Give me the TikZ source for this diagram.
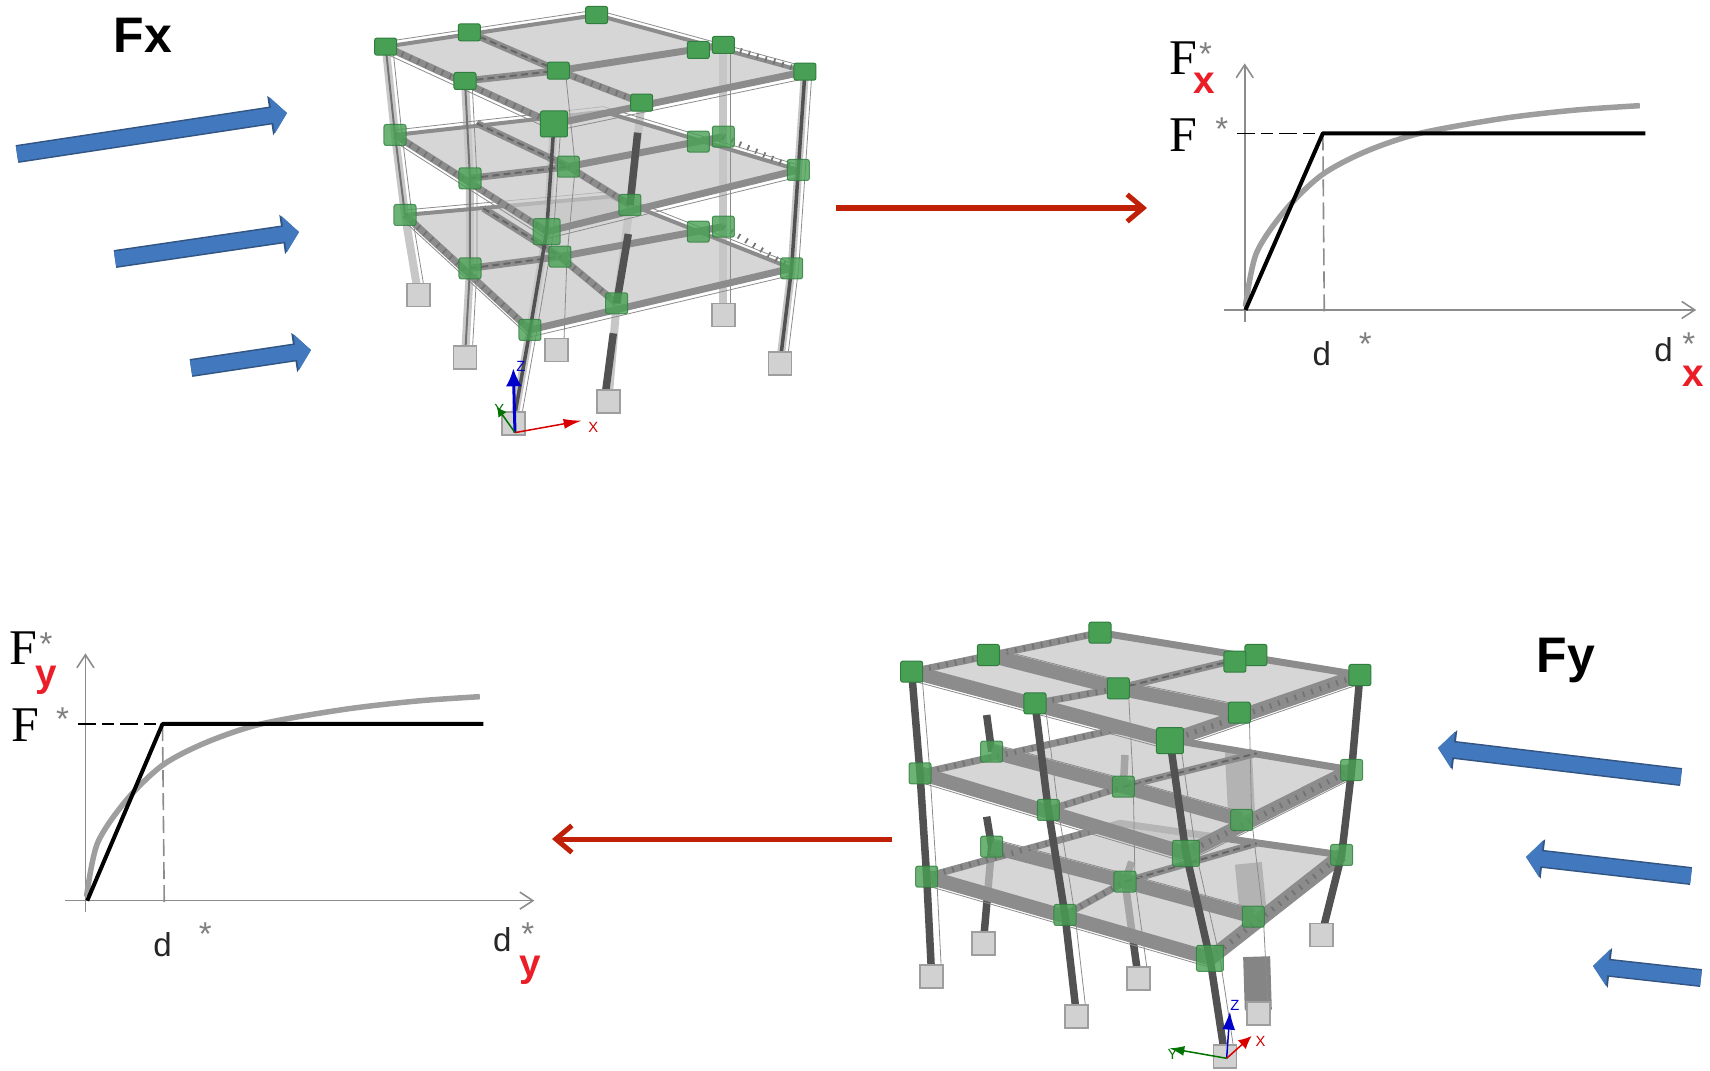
\documentclass[tikz,border=0pt]{standalone}
\usepackage{fontspec}
\setmainfont{Liberation Sans}
\newfontfamily\timesfont{Liberation Serif}
\usetikzlibrary{arrows.meta}
\definecolor{LoadBlue}{RGB}{66,120,190}
\definecolor{LoadEdge}{RGB}{50,85,130}
\definecolor{TransRed}{RGB}{192,32,8}
\definecolor{LabelRed}{RGB}{235,30,40}
\definecolor{JointGreen}{RGB}{72,160,84}
\definecolor{JointEdge}{RGB}{48,125,62}
\definecolor{SlabGray}{RGB}{198,198,198}
\definecolor{BeamGray}{RGB}{140,140,140}
\definecolor{ColGray}{RGB}{82,82,82}
\tikzset{
  load/.style={draw=LoadBlue,line width=.15cm,-{Triangle[length=.15cm,width=.36cm]},
    preaction={draw=LoadEdge,line width=.18cm,-{Triangle[length=.17cm,width=.39cm]}}},
  trans/.style={draw=TransRed,line width=.05cm,-{Straight Barb[length=.16cm,width=.27cm]}},
  slab/.style={fill=SlabGray,fill opacity=.72},
  beam/.style={draw=BeamGray,line width=.07cm,line join=round},
  beamwide/.style={draw=BeamGray,line width=.14cm,line join=round},
  rebar/.style={draw=black!60,line width=.02cm,dash pattern=on 2pt off 1.2pt},
  stirrup/.style={draw=black!55,line width=.055cm,dash pattern=on .5pt off 2pt},
  wire/.style={draw=black!45,line width=.008cm},
  collight/.style={draw=black!22,line width=.08cm},
  colthin/.style={draw=black!55,line width=.02cm},
  coldark/.style={draw=ColGray,line width=.035cm},
  colthick/.style={draw=ColGray,line width=.075cm},
  colwide/.style={draw=black!48,line width=.27cm},
  joint/.style={draw=JointEdge,fill=JointGreen,rounded corners=.6pt,line width=.01cm,
    minimum width=.22cm,minimum height=.17cm,inner sep=0pt},
  jointtall/.style={joint,minimum height=.21cm},
  jointbig/.style={joint,minimum width=.27cm,minimum height=.26cm},
  footing/.style={draw=black!38,fill=black!18,line width=.015cm,
    minimum width=.23cm,minimum height=.23cm,inner sep=0pt},
  axisline/.style={draw=black!45,line width=.016cm,-{Straight Barb[length=.13cm,width=.17cm]}},
  capline/.style={draw=black,line width=.04cm,line join=round},
  pushover/.style={draw=black!38,line width=.055cm,smooth},
  yieldlong/.style={draw=black,line width=.016cm,dash pattern=on .18cm off .06cm on .12cm off .06cm},
  yielddash/.style={draw=black!45,line width=.016cm,dash pattern=on .17cm off .06cm},
  forcelab/.style={inner sep=0pt,font=\timesfont\fontsize{14.2}{15}\selectfont},
  displab/.style={inner sep=0pt,font=\fontsize{9.4}{10}\selectfont,text=black!85},
  starlab/.style={inner sep=0pt,anchor=north,text=black!50,font=\fontsize{9.4}{10}\selectfont},
  dirlab/.style={inner sep=0pt,text=LabelRed,font=\bfseries\fontsize{11}{12}\selectfont},
  title/.style={inner sep=0pt,font=\bfseries\fontsize{14.2}{15}\selectfont},
  tiny/.style={inner sep=0pt,font=\fontsize{4.2}{5}\selectfont},
}

\begin{document}
\begin{tikzpicture}[x=.01cm,y=-.01cm]
\useasboundingbox (0,0) rectangle (1710,1070);

% loads along x
\coordinate (lxa) at (17,154);
\coordinate (lxb) at (287,113);
\coordinate (lxc) at (115,259);
\coordinate (lxd) at (299,232);
\coordinate (lxe) at (191,368);
\coordinate (lxf) at (311,350);
\draw[load] (lxa)--(lxb);
\draw[load] (lxc)--(lxd);
\draw[load] (lxe)--(lxf);
\node[title] (titlex) at (143,35) {Fx};

% frame pushed along x
\begin{scope}[shift={(340,0)},scale=.3333]
\coordinate (xta) at (137,140);
\coordinate (xtb) at (388,97);
\coordinate (xtc) at (770,45);
\coordinate (xtd) at (375,243);
\coordinate (xte) at (655,212);
\coordinate (xtf) at (1150,135);
\coordinate (xtg) at (642,372);
\coordinate (xth) at (905,308);
\coordinate (xti) at (1395,215);
\coordinate (xtj) at (1075,150);
\coordinate (xma) at (165,405);
\coordinate (xmb) at (410,370);
\coordinate (xmc) at (790,335);
\coordinate (xmd) at (390,535);
\coordinate (xme) at (685,500);
\coordinate (xmf) at (1150,410);
\coordinate (xmg) at (620,695);
\coordinate (xmh) at (870,615);
\coordinate (xmi) at (1375,510);
\coordinate (xmj) at (1075,425);
\coordinate (xla) at (195,645);
\coordinate (xlb) at (430,625);
\coordinate (xlc) at (810,590);
\coordinate (xld) at (390,805);
\coordinate (xle) at (660,770);
\coordinate (xlf) at (1150,680);
\coordinate (xlg) at (570,990);
\coordinate (xlh) at (830,910);
\coordinate (xli) at (1355,805);
\coordinate (xlj) at (1075,695);
\coordinate (xba) at (235,885);
\coordinate (xbd) at (375,1072);
\coordinate (xbe) at (650,1050);
\coordinate (xbf) at (1150,945);
\coordinate (xbg) at (520,1270);
\coordinate (xbh) at (805,1205);
\coordinate (xbi) at (1320,1090);
\foreach \p in {a,d,f,g,i,h}{
  \draw[collight] (xt\p)--(xm\p)--(xl\p)--(xb\p);
}
\foreach \lev in {xl,xm,xt}{
  \fill[slab] (\lev a)--(\lev c)--(\lev i)--(\lev g)--cycle;
  \draw[beam] (\lev a)--(\lev g)--(\lev i);
  \draw[beam] (\lev b)--(\lev e)--(\lev h);
  \draw[beam] (\lev d)--(\lev e)--(\lev f);
  \draw[beam,line width=.04cm] (\lev a)--(\lev c)--(\lev i);
  \draw[stirrup] (\lev a)--(\lev g);
  \draw[stirrup] (\lev e)--(\lev h);
  \draw[stirrup] (\lev f)--(\lev i);
  \draw[rebar] (\lev d)--(\lev e);
  \draw[rebar] (\lev b)--(\lev e);
  \draw[wire,transform canvas={yshift=-.07cm}] (\lev a)--(\lev g)--(\lev i);
  \draw[wire,transform canvas={yshift=.05cm}] (\lev a)--(\lev c)--(\lev i);
}
\foreach \p in {a,d,e,f,g,i}{
  \draw[wire,transform canvas={xshift=.07cm}] (xt\p)--(xm\p)--(xl\p)--(xb\p);
}
\draw[colthin] (xta)--(xma)--(xla);
\draw[colthin] (xtd)--(xmd)--(xld)--(xbd);
\draw[coldark] (xtg)--(xmg)--(xlg)--(xbg);
\draw[coldark] (xti)--(xmi)--(xli)--(xbi);
\draw[colthick] (893,398)--(xmh);
\draw[colthick] (865,702)--(xlh);
\draw[colthick] (820,1000)--(795,1190);
\foreach \p in {a,d,e,f,h,i,j}{
  \node[joint] (jxt\p) at (xt\p) {};
  \node[jointtall,opacity=.8] (jxm\p) at (xm\p) {};
  \node[jointtall,opacity=.8] (jxl\p) at (xl\p) {};
}
\node[joint] (jxtb) at (xtb) {};
\node[joint] (jxtc) at (xtc) {};
\node[jointbig] (jxtg) at (xtg) {};
\node[jointbig,opacity=.8] (jxmg) at (xmg) {};
\node[jointtall,opacity=.8] (jxlg) at (xlg) {};
\foreach \p in {a,d,e,f,h,i,g}{
  \node[footing] (fx\p) at (xb\p) {};
}
\coordinate (oxa) at (525,1298);
\coordinate (oxz) at (520,1105);
\coordinate (oxx) at (725,1262);
\coordinate (oxy) at (470,1220);
\draw[blue!80!black,line width=.03cm,-{Latex[length=.18cm,width=.16cm]}] (oxa)--(oxz);
\draw[red!85!black,line width=.015cm,-{Latex[length=.18cm,width=.1cm]}] (oxa)--(oxx);
\draw[green!45!black,line width=.015cm,-{Latex[length=.1cm,width=.1cm]}] (oxa)--(oxy);
\node[tiny,text=blue!80!black] (labxz) at (543,1100) {Z};
\node[tiny,text=green!45!black] (labxy) at (478,1228) {Y};
\node[tiny,text=red!80!black] (labxx) at (760,1283) {X};
\end{scope}

% transfer arrows
\coordinate (rxa) at (836,208);
\coordinate (rxb) at (1147,208);
\coordinate (rya) at (892,839);
\coordinate (ryb) at (552,839);
\draw[trans] (rxa)--(rxb);
\draw[trans] (rya)--(ryb);

% capacity curve along x
\begin{scope}[shift={(1140,20)},xscale=.3635,yscale=.3333]
\coordinate (gxo) at (290,870);
\coordinate (gxl) at (230,870);
\coordinate (gxr) at (1530,870);
\coordinate (gxb) at (288,905);
\coordinate (gxt) at (288,130);
\coordinate (gxy) at (503,340);
\coordinate (gxe) at (1390,340);
\coordinate (gxs) at (268,340);
\coordinate (gxd) at (507,890);
\draw[axisline] (gxb)--(gxt);
\draw[axisline] (gxl)--(gxr);
\draw[yieldlong] (gxs)--(gxy);
\draw[yielddash] (gxy)--(gxd);
\draw[pushover] plot coordinates {(290,860) (320,700) (400,570) (500,465) (620,395) (770,340) (1000,295) (1200,270) (1375,257)};
\draw[capline] (gxo)--(gxy)--(gxe);
\node[forcelab] (fxa) at (120,115) {F};
\node[starlab] (sxa) at (180,65) {*};
\node[dirlab] (dxa) at (177,190) {x};
\node[forcelab] (fxb) at (120,345) {F};
\node[starlab] (sxb) at (225,290) {*};
\node[displab] (dxb) at (500,1000) {d};
\node[starlab] (sxc) at (620,935) {*};
\node[displab] (dxc) at (1440,990) {d};
\node[starlab] (sxd) at (1510,935) {*};
\node[dirlab] (dxd) at (1522,1068) {x};
\end{scope}

% capacity curve along y
\begin{scope}[shift={(0,610)},xscale=.3635,yscale=.3333]
\coordinate (gyo) at (240,872);
\coordinate (gyl) at (178,872);
\coordinate (gyr) at (1470,872);
\coordinate (gyb) at (235,905);
\coordinate (gyt) at (235,130);
\coordinate (gyy) at (447,342);
\coordinate (gye) at (1330,342);
\coordinate (gys) at (215,342);
\coordinate (gyd) at (452,890);
\draw[axisline] (gyb)--(gyt);
\draw[axisline] (gyl)--(gyr);
\draw[yieldlong] (gys)--(gyy);
\draw[yielddash] (gyy)--(gyd);
\draw[pushover] plot coordinates {(238,860) (268,700) (348,570) (448,465) (568,397) (718,342) (948,298) (1148,273) (1320,260)};
\draw[capline] (gyo)--(gyy)--(gye);
\node[forcelab] (fya) at (65,115) {F};
\node[starlab] (sya) at (127,65) {*};
\node[dirlab] (dya) at (128,210) {y};
\node[forcelab] (fyb) at (70,345) {F};
\node[starlab] (syb) at (172,290) {*};
\node[displab] (dyb) at (447,1005) {d};
\node[starlab] (syc) at (565,935) {*};
\node[displab] (dyc) at (1382,990) {d};
\node[starlab] (syd) at (1452,935) {*};
\node[dirlab] (dyd) at (1460,1080) {y};
\end{scope}

% frame pushed along y
\begin{scope}[shift={(880,610)},scale=.3333]
\coordinate (yta) at (95,185);
\coordinate (ytb) at (325,135);
\coordinate (ytc) at (660,68);
\coordinate (ytd) at (465,280);
\coordinate (yte) at (715,235);
\coordinate (ytf) at (1128,135);
\coordinate (ytg) at (870,392);
\coordinate (yth) at (1078,308);
\coordinate (yti) at (1440,195);
\coordinate (ytj) at (1065,155);
\coordinate (yma) at (120,490);
\coordinate (ymb) at (335,425);
\coordinate (ymc) at (700,360);
\coordinate (ymd) at (505,600);
\coordinate (yme) at (730,530);
\coordinate (ymf) at (1130,430);
\coordinate (ymg) at (918,730);
\coordinate (ymh) at (1085,630);
\coordinate (ymi) at (1415,480);
\coordinate (yla) at (140,800);
\coordinate (ylb) at (335,710);
\coordinate (ylc) at (720,640);
\coordinate (yld) at (555,915);
\coordinate (yle) at (735,815);
\coordinate (ylf) at (1130,700);
\coordinate (ylg) at (990,1045);
\coordinate (ylh) at (1120,920);
\coordinate (yli) at (1385,735);
\coordinate (yba) at (155,1100);
\coordinate (ybb) at (310,1000);
\coordinate (ybd) at (590,1220);
\coordinate (ybe) at (775,1105);
\coordinate (ybg) at (1035,1340);
\coordinate (ybh) at (1135,1210);
\coordinate (ybi) at (1325,975);
\draw[colthick] (320,315)--(ymb);
\draw[colthick] (320,620)--(ylb);
\draw[colthick] (ylb)--(ybb);
\draw[colthick] (735,435)--(yme);
\draw[colthick] (755,755)--(yle);
\draw[colthick] (yle)--(ybe);
\draw[colwide] (1075,420)--(1085,620);
\draw[colwide] (1105,760)--(1120,910);
\draw[colwide] (1130,1040)--(1135,1200);
\foreach \lev in {yl,ym,yt}{
  \fill[slab] (\lev a)--(\lev c)--(\lev i)--(\lev g)--cycle;
  \draw[beamwide] (\lev a)--(\lev g)--(\lev i);
  \draw[beamwide] (\lev b)--(\lev e)--(\lev h);
  \draw[beam] (\lev d)--(\lev e)--(\lev f);
  \draw[beam] (\lev a)--(\lev c)--(\lev i);
  \draw[stirrup] (\lev a)--(\lev c);
  \draw[stirrup] (\lev g)--(\lev i);
  \draw[stirrup] (\lev d)--(\lev e);
  \draw[rebar] (\lev e)--(\lev f);
  \draw[wire,transform canvas={yshift=-.09cm}] (\lev a)--(\lev g)--(\lev i);
  \draw[wire,transform canvas={yshift=.08cm}] (\lev b)--(\lev e)--(\lev h);
}
\foreach \p in {a,d,e,g,h}{
  \draw[wire,transform canvas={xshift=.1cm}] (yt\p)--(ym\p)--(yl\p)--(yb\p);
}
\draw[colthick] (yta)--(yma)--(yla)--(yba);
\draw[colthick] (ytd)--(ymd)--(yld)--(ybd);
\draw[colthick] (ytg)--(ymg)--(ylg)--(ybg);
\draw[colthick] (yti)--(ymi)--(yli)--(ybi);
\foreach \p in {a,b,c,d,e,f,h,i}{
  \node[jointtall] (jyt\p) at (yt\p) {};
}
\node[jointtall] (jytj) at (ytj) {};
\node[jointbig] (jytg) at (ytg) {};
\foreach \p in {a,b,d,e,h,i}{
  \node[jointtall,opacity=.8] (jym\p) at (ym\p) {};
  \node[jointtall,opacity=.8] (jyl\p) at (yl\p) {};
}
\node[jointbig,opacity=.8] (jymg) at (ymg) {};
\node[jointbig,opacity=.8] (jylg) at (ylg) {};
\foreach \p in {a,b,d,e,g,h,i}{
  \node[footing] (fy\p) at (yb\p) {};
}
\coordinate (oya) at (1040,1345);
\coordinate (oyz) at (1050,1205);
\coordinate (oyx) at (1115,1278);
\coordinate (oyy) at (868,1315);
\draw[blue!80!black,line width=.015cm,-{Latex[length=.18cm,width=.13cm]}] (oya)--(oyz);
\draw[red!85!black,line width=.015cm,-{Latex[length=.13cm,width=.12cm]}] (oya)--(oyx);
\draw[green!45!black,line width=.015cm,-{Latex[length=.15cm,width=.1cm]}] (oya)--(oyy);
\node[tiny,text=blue!80!black] (labyz) at (1065,1185) {Z};
\node[tiny,text=green!45!black] (labyy) at (878,1332) {Y};
\node[tiny,text=red!80!black] (labyx) at (1142,1293) {X};
\end{scope}

% loads along y
\node[title] (titley) at (1566,660) {Fy};
\coordinate (lya) at (1681,777);
\coordinate (lyb) at (1438,748);
\coordinate (lyc) at (1691,876);
\coordinate (lyd) at (1526,857);
\coordinate (lye) at (1701,978);
\coordinate (lyf) at (1593,966);
\draw[load] (lya)--(lyb);
\draw[load] (lyc)--(lyd);
\draw[load] (lye)--(lyf);
\end{tikzpicture}
\end{document}
